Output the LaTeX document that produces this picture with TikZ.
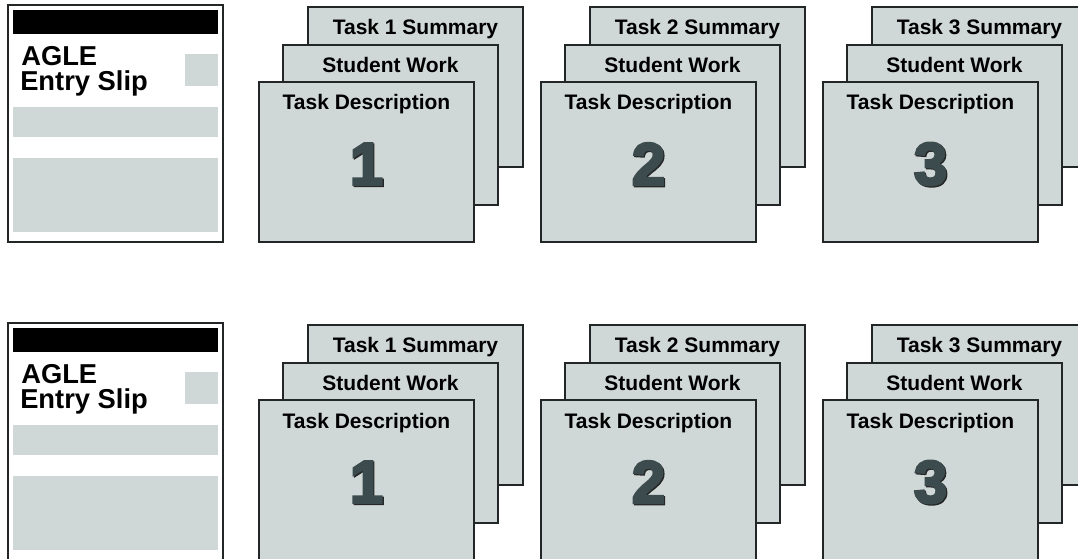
\documentclass[tikz,border=0pt]{standalone}
\usepackage{fontspec}
\setmainfont{Liberation Sans}
\newfontfamily\digitfont[FakeBold=4]{Liberation Sans Bold}

\definecolor{pagegray}{RGB}{208,216,215}
\definecolor{digitgray}{RGB}{60,76,78}
\definecolor{edgegray}{RGB}{35,38,38}

\tikzset{
  page/.style={draw=edgegray, line width=1.5pt, fill=pagegray},
  pagetitle/.style={anchor=base, inner sep=0pt, font=\bfseries\fontsize{15.75}{18}\selectfont},
  sliptitle/.style={anchor=base west, inner sep=0pt, font=\bfseries\fontsize{20.5}{21}\selectfont},
  tasknum/.style={inner sep=0pt, font=\digitfont\fontsize{45}{45}\selectfont},
}

\begin{document}
\begin{tikzpicture}[x=0.75pt,y=0.75pt,yscale=-1,xscale=1]
            \useasboundingbox (0,0) rectangle (1078,559);
            \fill[white] (0,0) rectangle (1078,559);

            \foreach \r/\dy in {1/0, 2/318} {

            % Entry Slip
            \draw[draw=edgegray, line width=1.5pt, fill=white] (8,5+\dy) rectangle (223,242+\dy);
            \fill[black] (13,10+\dy) rectangle (218,34+\dy);
            \fill[pagegray] (185,54+\dy) rectangle (218,86+\dy);
            \fill[pagegray] (13,107+\dy) rectangle (218,137+\dy);
            \fill[pagegray] (13,158+\dy) rectangle (218,232+\dy);
            \node[sliptitle] (agle-\r) at (21,66+\dy) {AGLE};
            \node[sliptitle] (slip-\r) at (20,90.5+\dy) {Entry Slip};

            % Tasks 1, 2, 3 : summary, student work, description
            \foreach \t in {1,2,3} {
              \pgfmathsetmacro{\x}{259+282*(\t-1)}
              \draw[page] (\x+49,7+\dy) rectangle ++(215,160);
              \node[pagetitle] (sum-\r-\t) at (\x+156.5,35+\dy) {Task \t\ Summary};
              \draw[page] (\x+24,45+\dy) rectangle ++(215,160);
              \node[pagetitle] (work-\r-\t) at (\x+131.5,73+\dy) {Student Work};
              \draw[page] (\x,82+\dy) rectangle ++(215,160);
              \node[pagetitle] (desc-\r-\t) at (\x+107.5,110+\dy) {Task Description};
              \node[tasknum, text=black!85] (shade-\r-\t) at (\x+108.7,165.2+\dy) {\t};
              \node[tasknum, text=digitgray] (num-\r-\t) at (\x+107.5,164+\dy) {\t};
            }
            }

\end{tikzpicture}
\end{document}
